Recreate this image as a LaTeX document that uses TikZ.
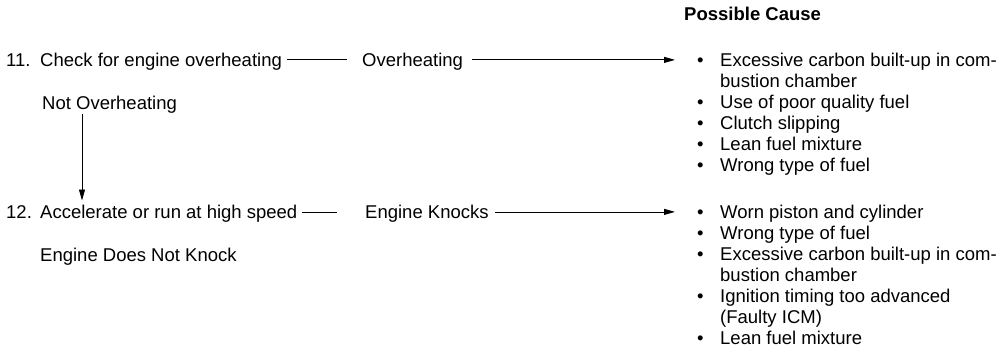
\documentclass[tikz,border=0pt]{standalone}
\usepackage{fontspec}
\setmainfont{Liberation Sans}
\usetikzlibrary{arrows.meta}
\begin{document}
\begin{tikzpicture}[x=1pt,y=-1pt,
  txt/.style={anchor=base west,inner sep=0pt,font=\fontsize{18.5}{21}\selectfont},
  hdr/.style={txt,font=\fontsize{18.5}{21}\selectfont\bfseries},
  conn/.style={line width=0.8pt},
  arr/.style={conn,-{Triangle[length=11pt,width=6pt]}}]
\useasboundingbox (0,0) rectangle (1005,353);
\def\ly{6.6pt}
% header
\node[hdr] (pc) at (684,20.5) {Possible Cause};
% row 11
\node[txt] (q11) at (6,66.5) {\makebox[34pt][l]{11.}Check for engine overheating};
\node[txt] (ov) at (362,66.5) {Overheating};
\node[txt] (l1) at (697,66.5) {\renewcommand{\arraystretch}{1}\begin{tabular}[t]{@{}p{23pt}@{}l@{}}
\textbullet & Excessive carbon built-up in com-\\
 & bustion chamber\\
\textbullet & Use of poor quality fuel\\
\textbullet & Clutch slipping\\
\textbullet & Lean fuel mixture\\
\textbullet & Wrong type of fuel
\end{tabular}};
\node[txt] (no) at (42,109.5) {Not Overheating};
% row 12
\node[txt] (q12) at (6,218.5) {\makebox[34pt][l]{12.}Accelerate or run at high speed};
\node[txt] (ek) at (365,218.5) {Engine Knocks};
\node[txt] (l2) at (697,218.5) {\renewcommand{\arraystretch}{1}\begin{tabular}[t]{@{}p{23pt}@{}l@{}}
\textbullet & Worn piston and cylinder\\
\textbullet & Wrong type of fuel\\
\textbullet & Excessive carbon built-up in com-\\
 & bustion chamber\\
\textbullet & Ignition timing too advanced\\
 & (Faulty ICM)\\
\textbullet & Lean fuel mixture
\end{tabular}};
\node[txt] (nk) at (40,261.5) {Engine Does Not Knock};
% connectors
\draw[conn] ([shift={(5pt,\ly)}]q11.base east) -- ([shift={(-15pt,\ly)}]ov.base west);
\draw[arr] ([shift={(9pt,\ly)}]ov.base east) -- ([shift={(-22pt,\ly)}]l1.base west);
\draw[arr] ([shift={(40pt,-5pt)}]no.base west) -- ([shift={(76pt,18pt)}]q12.base west);
\draw[conn] ([shift={(4pt,\ly)}]q12.base east) -- ([shift={(-28pt,\ly)}]ek.base west);
\draw[arr] ([shift={(6pt,\ly)}]ek.base east) -- ([shift={(-22pt,\ly)}]l2.base west);
\end{tikzpicture}
\end{document}
